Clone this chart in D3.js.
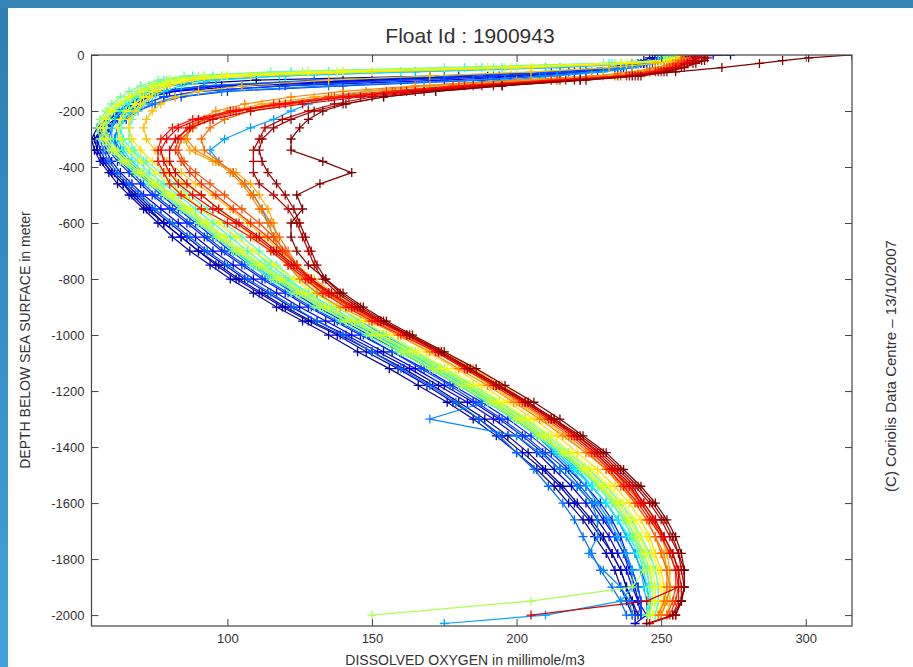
<!DOCTYPE html>
<html lang="en">

<head>
    <meta charset="UTF-8">
    <title>Float Id : 1900943</title>
    <script src="https://d3js.org/d3.v7.min.js"></script>
    <style>
        body {
            margin: 0;
            background: #fff;
        }

        svg {
            display: block;
            font-family: "Liberation Sans", Arial, Helvetica, sans-serif;
        }

        .line {
            fill: none;
            stroke-width: 1.2px;
        }

        .mark {
            fill: none;
            stroke-width: 1.3px;
        }

        .axis text {
            font-size: 13px;
            fill: #333;
        }

        .axis line {
            stroke: #444;
        }
    </style>
</head>

<body>
    <script>
        // depth of each level, metres below the surface
        const depths = [0, 10, 20, 30, 45, 60, 75, 90, 110, 130, 150, 175, 200, 230, 260,
            300, 340, 380, 420, 460, 500,
            550, 600, 650, 700, 750, 800, 850, 900, 950, 1000,
            1060, 1120, 1180, 1240, 1300, 1360, 1420, 1480, 1540, 1600,
            1660, 1720, 1780, 1840, 1900, 1950, 2000, 2030];

        // dissolved oxygen (millimole/m3) per cycle, one value per depth level
        const c01 = [274, 246, 244, 240, 232, 215, 170, 110, 76, 70, 71, 70, 66, 61, 57,
            54, 55, 57, 60, 64, 68,
            73, 78, 84, 90, 97, 104, 112, 120, 129, 139,
            150, 161, 171, 180, 189, 197, 204, 210, 216, 221,
            226, 230, 233, 236, 238, 240, 242, null];
        const c02 = [248, 248, 246, 242, 234, 218, 190, 140, 92, 76, 70, 66, 62, 58, 55,
            53, 54, 56, 59, 62, 66,
            71, 76, 81, 87, 94, 101, 109, 117, 126, 135,
            145, 156, 166, 176, 185, 193, 200, 207, 213, 218,
            223, 227, 231, 234, 236, 238, 240, null];
        const c03 = [249, 249, 247, 243, 235, 220, 194, 150, 98, 79, 71, 67, 63, 59, 57,
            55, 55, 57, 60, 64, 67,
            72, 78, 84, 90, 96, 103, 111, 119, 128, 138,
            148, 159, 169, 178, 187, 195, 202, 209, 215, 220,
            225, 229, 233, 236, 238, 240, 241, null];
        const c04 = [250, 250, 248, 244, 236, 222, 198, 160, 105, 82, 73, 67, 63, 59, 56,
            55, 56, 58, 61, 65, 69,
            74, 80, 86, 92, 99, 106, 114, 122, 131, 141,
            152, 163, 173, 183, 192, 200, 207, 213, 219, 224,
            228, 232, 235, 238, 240, 242, 245, 241];
        const c05 = [268, 250, 249, 245, 237, 224, 205, 175, 120, 90, 78, 71, 66, 62, 59,
            57, 58, 60, 63, 67, 71,
            77, 83, 89, 95, 102, 109, 117, 125, 134, 143,
            154, 165, 175, 185, 194, 202, 209, 215, 221, 226,
            230, 234, 237, 239, 241, 242, 243, null];
        const c06 = [251, 251, 249, 244, 232, 212, 180, 140, 96, 80, 73, 68, 64, 61, 59,
            58, 59, 62, 66, 70, 74,
            80, 86, 92, 98, 105, 112, 120, 128, 137, 146,
            157, 168, 178, 188, 197, 205, 212, 218, 224, 229,
            233, 236, 238, 240, 242, 243, 243, null];
        const c07 = [252, 252, 250, 247, 240, 228, 210, 188, 140, 100, 84, 75, 69, 65, 62,
            61, 62, 65, 69, 73, 77,
            83, 89, 95, 101, 108, 115, 123, 131, 140, 149,
            160, 170, 180, 190, 199, 207, 214, 220, 226, 231,
            235, 238, 241, 243, 245, 246, 246, null];
        const c08 = [251, 251, 249, 245, 236, 218, 192, 160, 118, 90, 78, 71, 66, 62, 60,
            59, 60, 63, 67, 71, 75,
            81, 87, 93, 99, 106, 113, 121, 129, 138, 147,
            157, 167, 177, 186, 195, 203, 210, 217, 222, 227,
            231, 234, 237, 240, 242, 243, 243, null];
        const c09 = [250, 250, 248, 243, 232, 210, 175, 130, 92, 78, 71, 66, 62, 59, 57,
            56, 57, 59, 62, 66, 70,
            75, 81, 87, 93, 100, 107, 115, 123, 131, 140,
            150, 160, 170, 179, 187, 194, 200, 206, 211, 216,
            220, 223, 226, 229, 233, 236, 238, null];
        const c10 = [252, 252, 250, 246, 238, 226, 208, 185, 135, 98, 82, 74, 68, 64, 62,
            61, 63, 66, 70, 74, 78,
            84, 90, 96, 102, 109, 116, 124, 132, 141, 150,
            161, 171, 181, 189, 170, 200, 208, 215, 221, 226,
            228, 228, 225, 230, 236, 239, 240, null];
        const c11 = [252, 252, 250, 246, 240, 230, 214, 196, 168, 148, 136, 128, 122, 116, 108,
            99, 94, 97, 102, 106, 109,
            112, 114, 116, 118, 121, 125, 131, 138, 146, 154,
            164, 174, 183, 192, 200, 207, 213, 219, 224, 228,
            232, 235, 238, 240, 240, 236, 210, 175];
        const c12 = [253, 253, 251, 242, 215, 165, 118, 92, 79, 73, 69, 66, 63, 61, 60,
            60, 62, 65, 69, 74, 79,
            85, 91, 97, 103, 110, 117, 125, 133, 142, 151,
            162, 172, 182, 191, 200, 208, 215, 221, 226, 231,
            235, 238, 241, 243, 244, 245, 245, null];
        const c13 = [253, 252, 250, 240, 210, 160, 120, 96, 84, 78, 74, 70, 67, 64, 62,
            62, 64, 67, 71, 76, 81,
            87, 93, 99, 105, 112, 119, 127, 135, 144, 153,
            163, 173, 183, 192, 201, 209, 216, 222, 228, 233,
            237, 240, 243, 245, 246, 246, 245, null];
        const c14 = [254, 254, 251, 236, 195, 135, 95, 80, 74, 70, 67, 64, 61, 59, 58,
            58, 60, 64, 68, 73, 78,
            84, 90, 96, 102, 109, 116, 124, 132, 141, 150,
            161, 171, 181, 190, 199, 207, 214, 220, 226, 231,
            235, 239, 242, 244, 245, 246, 246, null];
        const c15 = [255, 254, 250, 232, 182, 122, 88, 78, 73, 70, 68, 66, 64, 63, 63,
            64, 67, 71, 75, 80, 85,
            91, 97, 103, 109, 115, 121, 128, 136, 144, 153,
            164, 174, 184, 193, 202, 210, 217, 223, 229, 234,
            238, 241, 244, 246, 247, 247, 246, null];
        const c16 = [254, 253, 249, 233, 188, 128, 92, 80, 75, 72, 70, 68, 66, 64, 63,
            63, 65, 69, 73, 78, 83,
            89, 95, 101, 107, 113, 120, 127, 135, 143, 152,
            162, 172, 182, 192, 201, 209, 216, 222, 228, 233,
            237, 240, 243, 245, 246, 246, 245, null];
        const c17 = [255, 255, 251, 236, 192, 135, 98, 84, 78, 75, 73, 71, 69, 67, 66,
            66, 68, 72, 77, 82, 87,
            93, 99, 105, 111, 117, 123, 130, 138, 146, 155,
            165, 175, 185, 194, 203, 211, 218, 225, 231, 236,
            240, 243, 246, 248, 249, 249, 248, null];
        const c18 = [256, 255, 250, 230, 175, 115, 85, 76, 70, 66, 63, 60, 58, 56, 55,
            56, 59, 63, 68, 73, 78,
            84, 90, 96, 102, 108, 115, 122, 130, 139, 148,
            159, 170, 180, 190, 199, 207, 215, 222, 228, 233,
            237, 240, 243, 245, 246, 246, 245, null];
        const c19 = [255, 255, 251, 234, 186, 126, 90, 79, 73, 69, 66, 63, 61, 59, 58,
            59, 62, 66, 71, 76, 81,
            87, 93, 99, 105, 111, 118, 125, 133, 141, 150,
            160, 171, 181, 191, 200, 208, 216, 223, 229, 234,
            238, 241, 244, 246, 247, 247, 246, null];
        const c20 = [256, 256, 252, 238, 200, 140, 100, 84, 76, 71, 67, 63, 60, 58, 57,
            58, 61, 65, 70, 75, 80,
            86, 92, 98, 104, 111, 118, 126, 134, 143, 152,
            163, 173, 183, 192, 201, 209, 216, 223, 229, 234,
            238, 241, 243, 244, 240, 205, 150, null];
        const c21 = [256, 255, 251, 236, 196, 138, 98, 82, 75, 70, 66, 62, 59, 57, 56,
            57, 60, 64, 69, 74, 79,
            85, 91, 97, 103, 110, 117, 124, 132, 141, 150,
            161, 171, 181, 191, 200, 208, 216, 223, 229, 235,
            239, 242, 244, 246, 247, 247, 246, null];
        const c22 = [257, 256, 252, 236, 190, 128, 92, 80, 74, 70, 66, 63, 60, 58, 57,
            58, 61, 65, 70, 75, 81,
            87, 93, 99, 105, 112, 119, 127, 135, 144, 153,
            164, 174, 184, 193, 202, 210, 217, 224, 230, 235,
            239, 243, 245, 247, 248, 248, 247, null];
        const c23 = [257, 256, 253, 238, 198, 140, 100, 85, 78, 74, 71, 68, 65, 63, 62,
            63, 66, 70, 75, 80, 85,
            91, 97, 103, 109, 116, 123, 130, 138, 147, 156,
            166, 176, 186, 195, 204, 212, 219, 226, 232, 237,
            241, 245, 247, 249, 250, 250, 249, null];
        const c24 = [257, 257, 253, 240, 205, 150, 108, 88, 80, 76, 73, 70, 68, 66, 66,
            67, 70, 74, 79, 85, 91,
            97, 103, 109, 115, 121, 127, 134, 142, 150, 159,
            169, 179, 188, 197, 206, 214, 221, 228, 234, 239,
            243, 246, 248, 250, 251, 251, 250, null];
        const c25 = [257, 257, 255, 248, 232, 205, 170, 135, 105, 90, 82, 77, 74, 72, 71,
            72, 75, 79, 84, 89, 95,
            101, 107, 113, 118, 124, 130, 137, 145, 153, 162,
            172, 182, 191, 200, 209, 217, 224, 231, 236, 241,
            245, 248, 250, 252, 253, 253, 252, null];
        const c26 = [258, 258, 257, 254, 249, 242, 230, 205, 170, 148, 130, 112, 100, 92, 88,
            85, 87, 95, 103, 108, 111,
            114, 116, 117, 119, 121, 126, 133, 143, 153, 164,
            175, 185, 195, 204, 213, 221, 228, 234, 239, 243,
            247, 250, 252, 253, 253, 252, 250, null];
        const c27 = [258, 258, 257, 254, 248, 240, 226, 200, 165, 140, 122, 106, 96, 90, 87,
            86, 89, 96, 101, 105, 108,
            111, 114, 116, 118, 121, 125, 131, 139, 149, 159,
            170, 180, 190, 199, 208, 216, 224, 231, 236, 241,
            245, 248, 251, 252, 253, 252, 250, null];
        const c28 = [258, 258, 257, 255, 251, 245, 234, 212, 180, 158, 140, 122, 108, 99, 94,
            91, 92, 97, 102, 106, 109,
            112, 115, 118, 121, 124, 128, 134, 142, 151, 161,
            172, 182, 192, 201, 210, 218, 225, 231, 237, 241,
            245, 248, 250, 252, 252, 251, 249, null];
        const c29 = [260, 260, 259, 256, 252, 246, 236, 214, 180, 157, 137, 118, 104, 94, 88,
            84, 83, 85, 89, 94, 99,
            105, 111, 116, 120, 124, 129, 135, 143, 152, 162,
            173, 183, 193, 203, 212, 220, 227, 233, 238, 243,
            247, 250, 253, 255, 255, 254, 252, null];
        const c30 = [261, 261, 260, 257, 253, 246, 235, 212, 178, 155, 135, 116, 102, 92, 86,
            83, 82, 84, 87, 91, 96,
            102, 108, 114, 119, 124, 129, 135, 143, 152, 162,
            173, 183, 193, 203, 212, 220, 227, 233, 239, 244,
            248, 251, 254, 256, 256, 255, 253, null];
        const c31 = [262, 262, 261, 258, 254, 248, 238, 215, 182, 160, 140, 118, 101, 88, 81,
            77, 76, 76, 78, 80, 84,
            91, 100, 108, 115, 121, 127, 133, 141, 150, 160,
            172, 182, 192, 202, 211, 219, 226, 232, 237, 242,
            246, 250, 253, 255, 256, 256, 254, null];
        const c32 = [263, 263, 262, 259, 255, 249, 239, 217, 185, 162, 142, 120, 103, 90, 83,
            79, 77, 78, 80, 83, 88,
            95, 103, 110, 116, 122, 128, 135, 143, 152, 162,
            173, 183, 193, 203, 212, 220, 227, 233, 239, 243,
            247, 251, 254, 256, 257, 257, 255, 246];
        const c33 = [262, 262, 261, 259, 255, 250, 241, 220, 188, 165, 146, 126, 108, 95, 87,
            82, 80, 80, 82, 86, 91,
            97, 104, 111, 117, 123, 129, 136, 144, 153, 163,
            174, 184, 194, 204, 213, 221, 228, 234, 240, 244,
            248, 251, 254, 256, 256, 245, 205, null];
        const c34 = [265, 265, 264, 261, 257, 251, 242, 222, 192, 168, 150, 137, 128, 119, 113,
            111, 109, 109, 109, 111, 116,
            121, 124, 126, 128, 130, 133, 138, 145, 153, 162,
            173, 183, 193, 203, 212, 221, 229, 235, 241, 246,
            250, 253, 256, 257, 258, 257, 255, null];
        const c35 = [266, 266, 265, 262, 258, 252, 243, 224, 195, 172, 154, 140, 130, 122, 116,
            112, 111, 112, 114, 117, 120,
            123, 125, 127, 129, 131, 134, 139, 146, 154, 163,
            174, 184, 194, 204, 213, 222, 230, 236, 242, 247,
            251, 254, 256, 258, 258, 257, 255, null];
        const c36 = [316, 301, 292, 284, 271, 255, 240, 222, 195, 172, 154, 141, 133, 128, 125,
            122, 122, 133, 143, 132, 124,
            126, 122, 122, 124, 128, 134, 140, 147, 155, 164,
            175, 186, 196, 206, 215, 223, 231, 237, 243, 248,
            252, 255, 257, 258, 258, 257, 254, 245];

        const profiles = [c01, c02, c03, c04, c05, c06, c07, c08, c09, c10, c11, c12,
            c13, c14, c15, c16, c17, c18, c19, c20, c21, c22, c23, c24,
            c25, c26, c27, c28, c29, c30, c31, c32, c33, c34, c35, c36];

        const xTicks = [100, 150, 200, 250, 300];
        const yTicks = [0, -200, -400, -600, -800, -1000, -1200, -1400, -1600, -1800, -2000];

        const width = 913
        const height = 667
        const plot = { left: 91.5, right: 852, top: 55, bottom: 626 };

        const svg = d3.select("body")
            .append("svg")
            .attr("width", width)
            .attr("height", height);

        svg.append("rect").attr("width", width).attr("height", height).attr("fill", "#fff");

        // blue page frame, top and left
        const grad = svg.append("defs").append("linearGradient")
            .attr("id", "edge").attr("x1", 0).attr("y1", 0).attr("x2", 0).attr("y2", 1);
        grad.append("stop").attr("offset", "0%").attr("stop-color", "#2d7db1");
        grad.append("stop").attr("offset", "100%").attr("stop-color", "#43a1db");
        svg.append("rect").attr("x", 0).attr("y", 0).attr("width", 8).attr("height", height).attr("fill", "url(#edge)");
        svg.append("rect").attr("x", 0).attr("y", 0).attr("width", width).attr("height", 8).attr("fill", "#3586b7");

        svg.select("defs").append("clipPath").attr("id", "clip")
            .append("rect")
            .attr("x", plot.left).attr("y", plot.top)
            .attr("width", plot.right - plot.left).attr("height", plot.bottom - plot.top);

        const xscale = d3.scaleLinear()
            .domain([53, 316])
            .range([plot.left, plot.right]);

        const yscale = d3.scaleLinear()
            .domain([-2039, 0])
            .range([plot.bottom, plot.top]);

        // matlab jet colormap
        const jet = d3.scaleLinear()
            .domain([0, 0.125, 0.375, 0.625, 0.875, 1])
            .range(["#00008f", "#0000ff", "#00ffff", "#ffff00", "#ff0000", "#800000"]);

        const line = d3.line()
            .defined(d => d.o != null)
            .x(d => xscale(d.o))
            .y(d => yscale(-d.z));

        const plus = "M-4.5,0H4.5M0,-4.5V4.5";

        const g = svg.append("g").attr("clip-path", "url(#clip)");

        profiles.forEach((p, i) => {
            const pts = depths.map((z, k) => ({ z: z, o: p[k] }));
            const col = jet(i / (profiles.length - 1));

            g.append("path")
                .datum(pts)
                .attr("class", "line")
                .attr("stroke", col)
                .attr("d", line);

            g.selectAll(null)
                .data(pts.filter(d => d.o != null))
                .enter()
                .append("path")
                .attr("class", "mark")
                .attr("stroke", col)
                .attr("transform", d => `translate(${xscale(d.o)},${yscale(-d.z)})`)
                .attr("d", plus);
        });

        // axes, ticks pointing inward on all four sides
        svg.append("g")
            .attr("class", "axis")
            .attr("transform", `translate(0,${plot.bottom})`)
            .call(d3.axisBottom(xscale).tickValues(xTicks).tickSizeInner(-7).tickSizeOuter(0).tickPadding(8))
            .call(a => a.select(".domain").remove());

        svg.append("g")
            .attr("class", "axis")
            .attr("transform", `translate(0,${plot.top})`)
            .call(d3.axisTop(xscale).tickValues(xTicks).tickSizeInner(-7).tickSizeOuter(0).tickFormat(""))
            .call(a => a.select(".domain").remove());

        svg.append("g")
            .attr("class", "axis")
            .attr("transform", `translate(${plot.left},0)`)
            .call(d3.axisLeft(yscale).tickValues(yTicks).tickSizeInner(-7).tickSizeOuter(0).tickPadding(7)
                .tickFormat(d => String(d)))
            .call(a => a.select(".domain").remove());

        svg.append("g")
            .attr("class", "axis")
            .attr("transform", `translate(${plot.right},0)`)
            .call(d3.axisRight(yscale).tickValues(yTicks).tickSizeInner(-7).tickSizeOuter(0).tickFormat(""))
            .call(a => a.select(".domain").remove());

        svg.append("rect")
            .attr("x", plot.left).attr("y", plot.top)
            .attr("width", plot.right - plot.left).attr("height", plot.bottom - plot.top)
            .attr("fill", "none").attr("stroke", "#444").attr("stroke-width", 1.2);

        // texts
        svg.append("text")
            .attr("x", 470).attr("y", 43)
            .attr("text-anchor", "middle")
            .style("font-size", "21px").style("fill", "#333")
            .text("Float Id : 1900943");

        svg.append("text")
            .attr("x", 465).attr("y", 665)
            .attr("text-anchor", "middle")
            .style("font-size", "14px").style("fill", "#333")
            .text("DISSOLVED OXYGEN in millimole/m3");

        svg.append("text")
            .attr("transform", "translate(30,340) rotate(-90)")
            .attr("text-anchor", "middle")
            .style("font-size", "14px").style("fill", "#333")
            .text("DEPTH BELOW SEA SURFACE in meter");

        svg.append("text")
            .attr("transform", "translate(896,366) rotate(-90)")
            .attr("text-anchor", "middle")
            .style("font-size", "15px").style("fill", "#333")
            .text("(C) Coriolis Data Centre – 13/10/2007");
    </script>
</body>

</html>
